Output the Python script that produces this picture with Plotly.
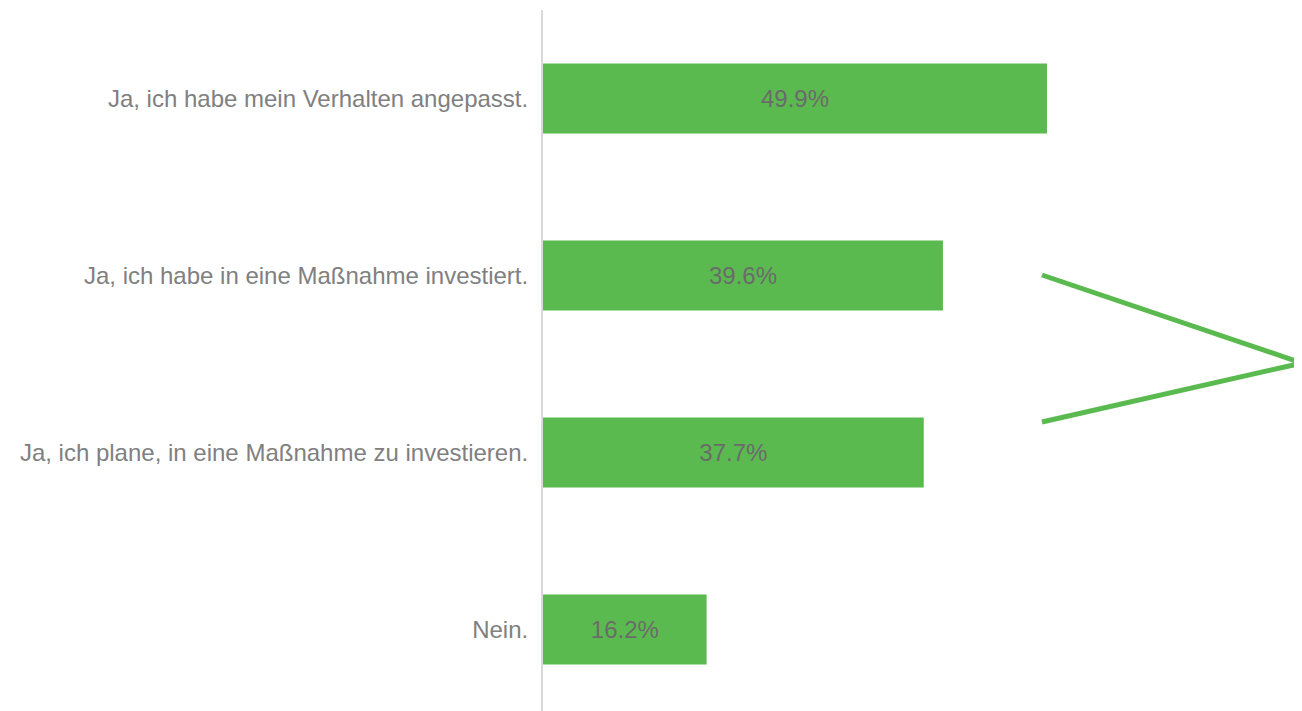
import plotly.graph_objects as go

categories = [
    "Ja, ich habe mein Verhalten angepasst.",
    "Ja, ich habe in eine Maßnahme investiert.",
    "Ja, ich plane, in eine Maßnahme zu investieren.",
    "Nein.",
]
values = [49.9, 39.6, 37.7, 16.2]
labels = ["49.9%", "39.6%", "37.7%", "16.2%"]

green = "#5BBA4F"

fig = go.Figure(go.Bar(
    x=values,
    y=categories,
    orientation="h",
    marker=dict(color=green, line=dict(width=0)),
    width=0.395,
    text=labels,
    textposition="inside",
    insidetextanchor="middle",
    textfont=dict(color="#6B6B6B", size=24, family="Liberation Sans, Arial"),
    hoverinfo="skip",
))

# decorative "greater than" arrow on the right
fig.add_shape(type="line", xref="paper", yref="paper",
              x0=(1042 - 543) / 759, y0=1 - (275 - 10) / 701,
              x1=1.0, y1=1 - (363 - 10) / 701,
              line=dict(color=green, width=5))
fig.add_shape(type="line", xref="paper", yref="paper",
              x0=(1042 - 543) / 759, y0=1 - (422 - 10) / 701,
              x1=1.0, y1=1 - (363 - 10) / 701,
              line=dict(color=green, width=5))

fig.update_layout(
    width=1294, height=703,
    margin=dict(l=535, r=0, t=2, b=0),
    paper_bgcolor="white", plot_bgcolor="white",
    showlegend=False,
    font=dict(family="Liberation Sans, Arial", color="#808080", size=24),
    xaxis=dict(range=[0, 75.15], showgrid=False, zeroline=False,
               showticklabels=False, ticks="", showline=False),
    yaxis=dict(range=[3.46, -0.5], showgrid=False, zeroline=False,
               showline=True, linecolor="#D9D9D9", linewidth=2,
               ticks="", ticklabelstandoff=8,
               tickfont=dict(size=24, color="#808080")),
)

fig.write_html("out.html")
